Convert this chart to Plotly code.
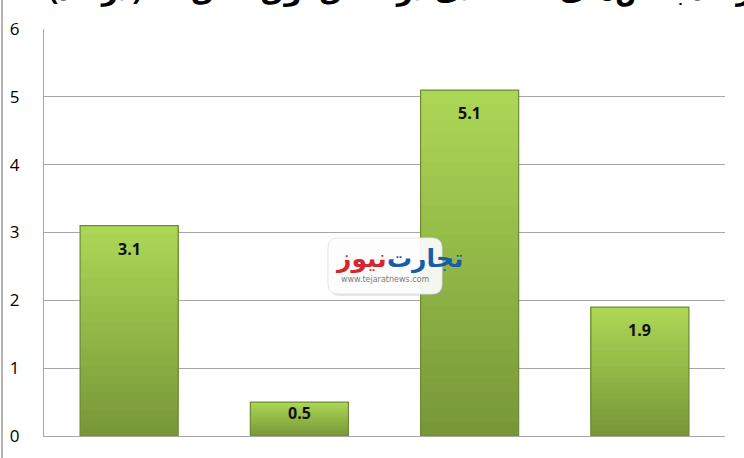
import plotly.graph_objects as go

categories = ["کشاورزی", "صنعت", "نفت", "خدمات"]
values = [3.1, 0.5, 5.1, 1.9]
value_labels = ["3.1", "0.5", "5.1", "1.9"]
y_ticks = [0, 1, 2, 3, 4, 5, 6]
title_text = "نرخ رشد بخش‌های اقتصادی در فصل اول سال ۹۷ (درصد)"

W, H = 744, 458
L, R, T, B = 44, 19, 29, 22
bar_w = 0.576
y_max = 6

pw, ph = W - L - R, H - T - B


def px2x(px):
    return (px - L) / pw


def py2y(py):
    return (H - B - py) / ph


def lerp(c1, c2, t):
    return "rgb(%d,%d,%d)" % tuple(round(a + (b - a) * t) for a, b in zip(c1, c2))


bottom_c = (120, 152, 56)
top_c = (172, 214, 86)

fig = go.Figure()
n = 24
for i in range(n):
    t = i / (n - 1)
    fig.add_trace(go.Bar(
        x=categories,
        y=[v - v * i / n for v in values],
        base=[v * i / n for v in values],
        width=bar_w,
        marker=dict(color=lerp(bottom_c, top_c, t), line=dict(width=0)),
        hoverinfo="skip", showlegend=False,
    ))
fig.add_trace(go.Bar(
    x=categories, y=values, width=bar_w,
    marker=dict(color="rgba(0,0,0,0)", line=dict(color="#6e8a34", width=1.2)),
    showlegend=False,
))

annotations = []
for c, v, lab in zip(categories, values, value_labels):
    bar_px = v / y_max * ph
    annotations.append(dict(
        x=c, y=v, xref="x", yref="y", text="<b>%s</b>" % lab, showarrow=False,
        yanchor="middle", yshift=-min(23, bar_px * 0.33),
        font=dict(family="Open Sans, Arial", size=16, color="#111111"),
    ))

# title, clipped at the top edge as in the reference
annotations.append(dict(
    x=px2x(428), y=1, xref="paper", yref="paper", yanchor="bottom", yshift=T - 10,
    text="<b>%s</b>" % title_text, showarrow=False,
    font=dict(family="Noto Sans, DejaVu Sans", size=28, color="#000000"),
))

# watermark
wx0, wx1, wy0, wy1 = 328, 442, 238, 294
cx = px2x((wx0 + wx1) / 2 + 2)
cy = py2y((wy0 + wy1) / 2)
annotations.append(dict(
    x=cx, y=cy, xref="paper", yref="paper", xanchor="left", yanchor="middle",
    xshift=-2, yshift=9,
    text="<b>تجارت</b>", showarrow=False,
    font=dict(family="Noto Sans, DejaVu Sans", size=25, color="#1b5ca8"),
))
annotations.append(dict(
    x=cx, y=cy, xref="paper", yref="paper", xanchor="right", yanchor="middle",
    xshift=2, yshift=9,
    text="<b>نیوز</b>", showarrow=False,
    font=dict(family="Noto Sans, DejaVu Sans", size=25, color="#d3262d"),
))
annotations.append(dict(
    x=px2x((wx0 + wx1) / 2), y=cy, xref="paper", yref="paper", xanchor="center", yanchor="middle",
    yshift=-13, text="www.tejaratnews.com", showarrow=False,
    font=dict(family="DejaVu Sans, Arial", size=8, color="#7a7a7a"),
))

# rounded box path for the watermark (paper coords)
rr = 10
def rounded_path(x0, x1, y0, y1, r):
    X = lambda p: "%.5f" % px2x(p)
    Y = lambda p: "%.5f" % py2y(p)
    return (f"M {X(x0 + r)} {Y(y0)} L {X(x1 - r)} {Y(y0)} "
            f"Q {X(x1)} {Y(y0)} {X(x1)} {Y(y0 + r)} L {X(x1)} {Y(y1 - r)} "
            f"Q {X(x1)} {Y(y1)} {X(x1 - r)} {Y(y1)} L {X(x0 + r)} {Y(y1)} "
            f"Q {X(x0)} {Y(y1)} {X(x0)} {Y(y1 - r)} L {X(x0)} {Y(y0 + r)} "
            f"Q {X(x0)} {Y(y0)} {X(x0 + r)} {Y(y0)} Z")

shapes = [
    dict(type="line", xref="paper", yref="paper",
         x0=px2x(2), x1=px2x(2), y0=py2y(0), y1=py2y(H),
         line=dict(color="#9a9a9a", width=1.5)),
    dict(type="path", xref="paper", yref="paper",
         path=rounded_path(wx0 + 2, wx1 + 2, wy0 + 2, wy1 + 2, rr),
         fillcolor="rgba(150,150,150,0.25)", line=dict(width=0), layer="above"),
    dict(type="path", xref="paper", yref="paper",
         path=rounded_path(wx0, wx1, wy0, wy1, rr),
         fillcolor="rgba(255,255,255,0.9)", line=dict(color="rgba(225,225,225,0.9)", width=1),
         layer="above"),
]

fig.update_layout(
    width=W, height=H,
    margin=dict(l=L, r=R, t=T, b=B),
    paper_bgcolor="white", plot_bgcolor="white",
    barmode="overlay",
    annotations=annotations,
    shapes=shapes,
    xaxis=dict(
        type="category", categoryorder="array", categoryarray=categories,
        showline=True, linecolor="#a6a6a6", linewidth=1, automargin=False,
        showgrid=False, ticks="outside", ticklen=18, tickcolor="rgba(0,0,0,0)",
        tickfont=dict(family="Noto Sans, DejaVu Sans", size=16, color="#000"),
        range=[-0.5, 3.5], fixedrange=True,
    ),
    yaxis=dict(
        range=[0, y_max], tickvals=y_ticks, ticktext=[str(t) for t in y_ticks],
        showgrid=True, gridcolor="#a6a6a6", gridwidth=1, automargin=False,
        showline=True, linecolor="#a6a6a6", linewidth=1,
        zeroline=False, ticks="", ticklabelstandoff=20,
        tickfont=dict(family="Open Sans, Arial", size=17, color="#000"),
    ),
)

fig.write_html("out.html", config={"displayModeBar": False},
               post_script="document.body.style.margin='0';")
